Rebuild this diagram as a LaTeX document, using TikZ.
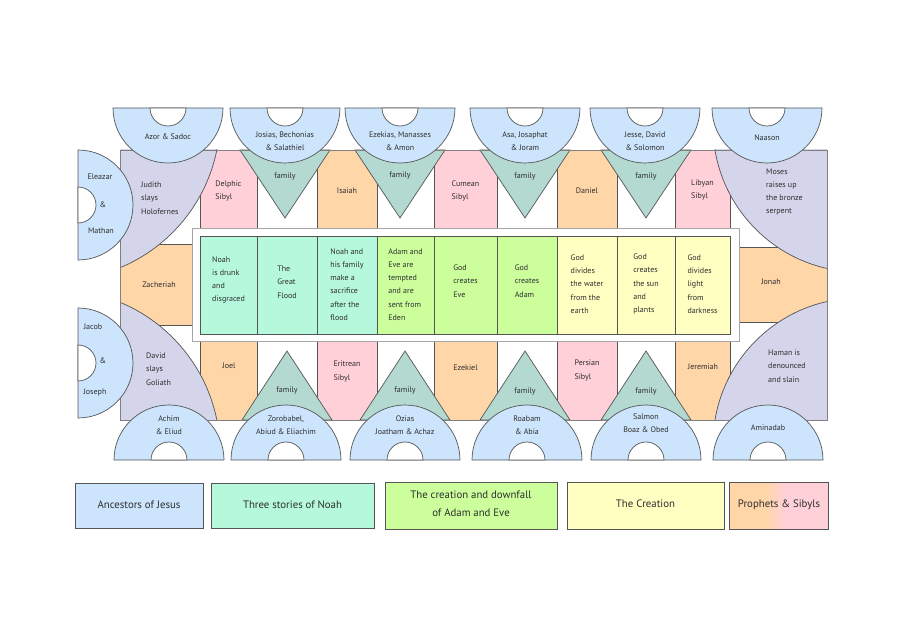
\documentclass[tikz,border=0pt]{standalone}
\usepackage{fontspec}
\setmainfont{PT Sans}
\definecolor{ancestor}{HTML}{CCE4FC}
\definecolor{heroine}{HTML}{D4D4EA}
\definecolor{sibyl}{HTML}{FFD0D8}
\definecolor{prophet}{HTML}{FFD6A8}
\definecolor{kin}{HTML}{B3D9D0}
\definecolor{noah}{HTML}{B5F8DC}
\definecolor{adam}{HTML}{CCFF9C}
\definecolor{creation}{HTML}{FFFFC2}
\definecolor{ink}{HTML}{2E2E2E}
\definecolor{edge}{HTML}{555555}
\begin{document}
\begin{tikzpicture}[x=1pt,y=-1pt,
		outline/.style={draw=edge, line width=0.7pt},
		small/.style={font=\fontsize{8}{13.3}\selectfont, text=ink, inner sep=0pt, align=left},
		legendtext/.style={font=\fontsize{10.8}{17.7}\selectfont, text=ink, inner sep=0pt, align=center}]
			\useasboundingbox (0,0) rectangle (900,636);
			\fill [white] (0,0) rectangle (900,636);
			\draw [outline, fill=sibyl] (200,150) rectangle (257,228);
			\draw [outline, fill=prophet] (317,150) rectangle (377,228);
			\draw [outline, fill=sibyl] (434,150) rectangle (497,228);
			\draw [outline, fill=prophet] (557,150) rectangle (617,228);
			\draw [outline, fill=sibyl] (675,150) rectangle (730,228);
			\draw [outline, fill=prophet] (200,341) rectangle (257,420);
			\draw [outline, fill=sibyl] (317,341) rectangle (377,420);
			\draw [outline, fill=prophet] (434,341) rectangle (497,420);
			\draw [outline, fill=sibyl] (557,341) rectangle (617,420);
			\draw [outline, fill=prophet] (675,341) rectangle (730,420);
			\draw [outline, fill=prophet] (120,244) rectangle (192,325);
			\draw [outline, fill=prophet] (739,247) rectangle (827,322);
			\begin{scope}
				\clip (120,150) rectangle (473,285);
				\draw [outline, fill=heroine] (58,118) circle (162);
			\end{scope}
			\begin{scope}
				\clip (120,285) rectangle (473,420);
				\draw [outline, fill=heroine] (58,452) circle (162);
			\end{scope}
			\begin{scope}
				\clip (473,150) rectangle (827,285);
				\draw [outline, fill=heroine] (859,126) circle (146);
			\end{scope}
			\begin{scope}
				\clip (473,285) rectangle (827,420);
				\draw [outline, fill=heroine] (859,444) circle (146);
			\end{scope}
			\draw [outline, fill=kin] (240,150) -- (330,150) -- (285,218) -- cycle;
			\draw [outline, fill=kin] (355,150) -- (445,150) -- (400,218) -- cycle;
			\draw [outline, fill=kin] (480,150) -- (570,150) -- (525,218) -- cycle;
			\draw [outline, fill=kin] (601,150) -- (691,150) -- (646,218) -- cycle;
			\draw [outline, fill=kin] (242,420) -- (332,420) -- (287,351) -- cycle;
			\draw [outline, fill=kin] (360,420) -- (450,420) -- (405,351) -- cycle;
			\draw [outline, fill=kin] (480,420) -- (570,420) -- (525,351) -- cycle;
			\draw [outline, fill=kin] (601,420) -- (691,420) -- (646,351) -- cycle;
			\draw [color=gray, line width=0.7pt] (120,150) rectangle (827,420);
			\draw [color=gray!70, line width=0.7pt, fill=white] (192,228) rectangle (739,341);
			\draw [outline, fill=noah] (200,236) rectangle (257,334);
			\draw [outline, fill=noah] (257,236) rectangle (317,334);
			\draw [outline, fill=noah] (317,236) rectangle (377,334);
			\draw [outline, fill=adam] (377,236) rectangle (434,334);
			\draw [outline, fill=adam] (434,236) rectangle (497,334);
			\draw [outline, fill=adam] (497,236) rectangle (557,334);
			\draw [outline, fill=creation] (557,236) rectangle (617,334);
			\draw [outline, fill=creation] (617,236) rectangle (675,334);
			\draw [outline, fill=creation] (675,236) rectangle (730,334);
			\draw [outline, fill=ancestor] (113,108) arc (180:0:55) -- cycle;
			\draw [outline, fill=white] (150,108) arc (180:0:18) -- cycle;
			\draw [outline, fill=ancestor] (230,108) arc (180:0:55) -- cycle;
			\draw [outline, fill=white] (267,108) arc (180:0:18) -- cycle;
			\draw [outline, fill=ancestor] (345,108) arc (180:0:55) -- cycle;
			\draw [outline, fill=white] (382,108) arc (180:0:18) -- cycle;
			\draw [outline, fill=ancestor] (470,108) arc (180:0:55) -- cycle;
			\draw [outline, fill=white] (507,108) arc (180:0:18) -- cycle;
			\draw [outline, fill=ancestor] (590,108) arc (180:0:55) -- cycle;
			\draw [outline, fill=white] (627,108) arc (180:0:18) -- cycle;
			\draw [outline, fill=ancestor] (712,108) arc (180:0:55) -- cycle;
			\draw [outline, fill=white] (749,108) arc (180:0:18) -- cycle;
			\draw [outline, fill=ancestor] (114,460) arc (180:360:55) -- cycle;
			\draw [outline, fill=white] (151,460) arc (180:360:18) -- cycle;
			\draw [outline, fill=ancestor] (231,460) arc (180:360:55) -- cycle;
			\draw [outline, fill=white] (268,460) arc (180:360:18) -- cycle;
			\draw [outline, fill=ancestor] (350,460) arc (180:360:55) -- cycle;
			\draw [outline, fill=white] (387,460) arc (180:360:18) -- cycle;
			\draw [outline, fill=ancestor] (472,460) arc (180:360:55) -- cycle;
			\draw [outline, fill=white] (509,460) arc (180:360:18) -- cycle;
			\draw [outline, fill=ancestor] (591,460) arc (180:360:55) -- cycle;
			\draw [outline, fill=white] (628,460) arc (180:360:18) -- cycle;
			\draw [outline, fill=ancestor] (713,460) arc (180:360:55) -- cycle;
			\draw [outline, fill=white] (750,460) arc (180:360:18) -- cycle;
			\draw [outline, fill=ancestor] (78,150) arc (-90:90:55) -- cycle;
			\draw [outline, fill=white] (78,187) arc (-90:90:18) -- cycle;
			\draw [outline, fill=ancestor] (78,308) arc (-90:90:55) -- cycle;
			\draw [outline, fill=white] (78,345) arc (-90:90:18) -- cycle;
			\node [small, align=center] (azor) at (168,137) {Azor \& Sadoc};
			\node [small, align=center] (josias) at (285,141) {Josias, Bechonias\\\& Salathiel};
			\node [small, align=center] (ezekias) at (400,141) {Ezekias, Manasses\\\& Amon};
			\node [small, align=center] (asa) at (525,141) {Asa, Josaphat\\\& Joram};
			\node [small, align=center] (jesse) at (645,141) {Jesse, David\\\& Solomon};
			\node [small, align=center] (naason) at (767,138) {Naason};
			\node [small, align=center] (achim) at (169,425) {Achim\\\& Eliud};
			\node [small, align=center] (zorobabel) at (286,425) {Zorobabel,\\Abiud \& Eliachim};
			\node [small, align=center] (ozias) at (405,425) {Ozias\\Joatham \& Achaz};
			\node [small, align=center] (roabam) at (527,425) {Roabam\\\& Abia};
			\node [small, align=center] (salmon) at (646,423) {Salmon\\Boaz \& Obed};
			\node [small, align=center] (aminadab) at (768,428) {Aminadab};
			\node [small] (eleazar) at (100,177) {Eleazar};
			\node [small] (eleazarand) at (103,205) {\&};
			\node [small] (mathan) at (101,231) {Mathan};
			\node [small] (jacob) at (93,327) {Jacob};
			\node [small] (jacoband) at (103,361) {\&};
			\node [small] (joseph) at (95,393) {Joseph};
			\node [small, anchor=west] (judith) at (141,198) {Judith\\slays\\Holofernes};
			\node [small, anchor=west] (david) at (146,369) {David\\slays\\Goliath};
			\node [small, anchor=west] (moses) at (766,192) {Moses\\raises up\\the bronze\\serpent};
			\node [small, anchor=west] (haman) at (768,366) {Haman is\\denounced\\and slain};
			\node [small] (zacheriah) at (159,285) {Zacheriah};
			\node [small] (jonah) at (771,282) {Jonah};
			\node [small] (delphic) at (228.5,191) {Delphic\\Sibyl};
			\node [small] (isaiah) at (347,191) {Isaiah};
			\node [small] (cumean) at (465.5,191) {Cumean\\Sibyl};
			\node [small] (daniel) at (587,191) {Daniel};
			\node [small] (libyan) at (702.5,190) {Libyan\\Sibyl};
			\node [small] (joel) at (229,366) {Joel};
			\node [small] (eritrean) at (347,371.5) {Eritrean\\Sibyl};
			\node [small] (ezekiel) at (465.5,368) {Ezekiel};
			\node [small] (persian) at (587,370.5) {Persian\\Sibyl};
			\node [small] (jeremiah) at (703,367) {Jeremiah};
			\node [small] (familyA) at (285,176) {family};
			\node [small] (familyB) at (400,175) {family};
			\node [small] (familyC) at (525,176) {family};
			\node [small] (familyD) at (646,176) {family};
			\node [small] (familyE) at (287,390) {family};
			\node [small] (familyF) at (405,390) {family};
			\node [small] (familyG) at (525,391) {family};
			\node [small] (familyH) at (646,391) {family};
			\node [small] (drunk) at (228.5,280) {Noah\\is drunk\\and\\disgraced};
			\node [small] (flood) at (287,282) {The\\Great\\Flood};
			\node [small] (sacrifice) at (347,284.5) {Noah and\\his family\\make a\\sacrifice\\after the\\flood};
			\node [small] (eden) at (405.5,284.5) {Adam and\\Eve are\\tempted\\and are\\sent from\\Eden};
			\node [small] (eve) at (465.5,281) {God\\creates\\Eve};
			\node [small] (adamcell) at (527,281) {God\\creates\\Adam};
			\node [small] (water) at (587,284) {God\\divides\\the water\\from the\\earth};
			\node [small] (sun) at (646,284) {God\\creates\\the sun\\and\\plants};
			\node [small] (light) at (702.5,284) {God\\divides\\light\\from\\darkness};
			\draw [outline, fill=ancestor] (75,483) rectangle (203,528);
			\node [legendtext] (ancestors) at (139,505) {Ancestors of Jesus};
			\draw [outline, fill=noah] (211,483) rectangle (374,528);
			\node [legendtext] (stories) at (292.5,505) {Three stories of Noah};
			\draw [outline, fill=adam] (385,482) rectangle (557,529);
			\node [legendtext] (downfall) at (471,504) {The creation and downfall\\of Adam and Eve};
			\draw [outline, fill=creation] (567,482) rectangle (724,529);
			\node [legendtext] (creationkey) at (645.5,504) {The Creation};
			\fill [prophet] (729,482) rectangle (765,529);
			\shade [left color=prophet, right color=sibyl] (765,482) rectangle (785,529);
			\fill [sibyl] (785,482) rectangle (828,529);
			\draw [outline] (729,482) rectangle (828,529);
			\node [legendtext] (prophets) at (779,505) {Prophets \& Sibyls};
		\end{tikzpicture}
\end{document}
